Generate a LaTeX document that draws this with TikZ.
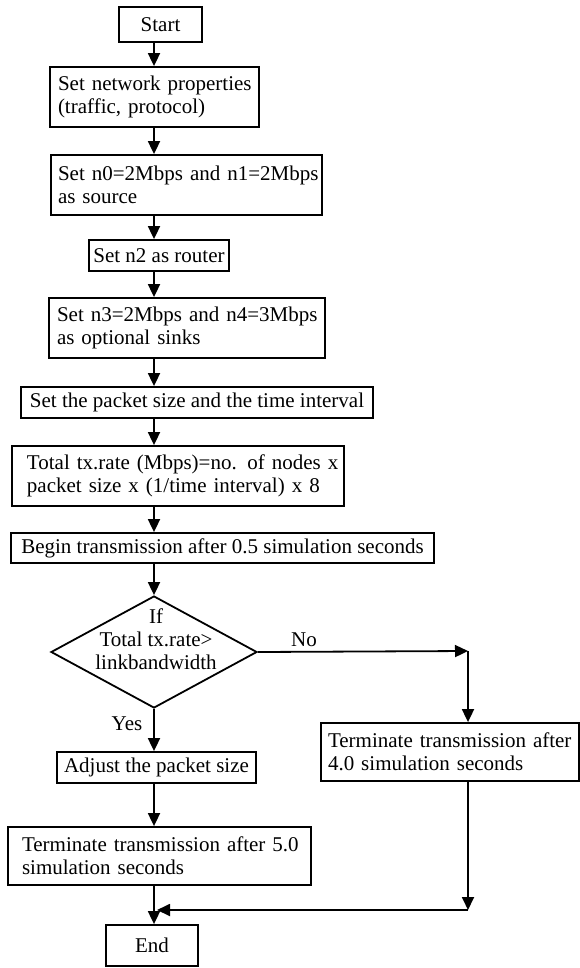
\documentclass[tikz,border=0pt]{standalone}
\usepackage{fontspec}
\setmainfont{Liberation Serif}
\usetikzlibrary{shapes.geometric,arrows.meta}
\begin{document}
\begin{tikzpicture}[x=1pt,y=-1pt,
  box/.style={draw, line width=1.8pt, inner ysep=0pt, font=\fontsize{21}{23}\selectfont},
  lbox/.style={box, align=left},
  cbox/.style={box, align=center, inner xsep=0pt},
  arr/.style={line width=1.8pt, -{Triangle[length=13pt,width=12pt]}},
  lab/.style={font=\fontsize{21}{23}\selectfont, inner sep=0pt}]
\useasboundingbox (0,0) rectangle (580,968);
\coordinate (ax) at (154,0);
\coordinate (cr) at (468,651);
\coordinate (cm) at (468,910);
\coordinate (mj) at (157,910);

\node[cbox, minimum width=83pt, minimum height=35pt] (start) at (160.5,24.5) {Start};
\node[lbox, inner xsep=8pt, text width=193pt, minimum height=60pt] (net) at (154.5,97) {\mbox{Set network properties}\\\mbox{(traffic, protocol)}};
\node[lbox, inner xsep=7pt, text width=257pt, minimum height=60pt] (src) at (186.5,185) {\mbox{Set n0=2Mbps and n1=2Mbps}\\\mbox{as source}};
\node[cbox, minimum width=140pt, minimum height=31pt] (router) at (159,255.5) {Set n2 as router};
\node[lbox, inner xsep=8pt, text width=260pt, minimum height=60pt] (sinks) at (187,328) {\mbox{Set n3=2Mbps and n4=3Mbps}\\\mbox{as optional sinks}};
\node[cbox, minimum width=352pt, minimum height=31pt] (pkt) at (197,402.5) {Set the packet size and the time interval};
\node[lbox, inner xsep=15pt, text width=302pt, minimum height=60pt] (rate) at (178,476) {\mbox{Total tx.rate (Mbps)=no. of nodes x}\\\mbox{packet size x (1/time interval) x 8}};
\node[cbox, minimum width=423pt, minimum height=30pt] (begin) at (222.5,548) {Begin transmission after 0.5 simulation seconds};
\node[diamond, draw, line width=1.8pt, inner sep=0pt, minimum width=206pt, minimum height=112pt] (dec) at (154,652) {};
\node[lab, align=center] (dectxt) at (156,639.5) {If\\Total tx.rate>\\linkbandwidth};
\node[cbox, minimum width=199pt, minimum height=31pt] (adjust) at (156.5,767.5) {Adjust the packet size};
\node[lbox, inner xsep=14pt, text width=275pt, minimum height=58pt] (term5) at (159.5,856) {\mbox{Terminate transmission after 5.0}\\\mbox{simulation seconds}};
\node[lbox, inner xsep=7pt, text width=244pt, minimum height=58pt] (term4) at (450,752) {\mbox{Terminate transmission after}\\\mbox{4.0 simulation seconds}};
\node[cbox, minimum width=92pt, minimum height=41pt] (end) at (152,945.5) {End};
\node[lab] (yes) at (127,724) {Yes};
\node[lab] (no) at (304,640) {No};

\draw[arr] (start.south -| ax) -- (net.north -| ax);
\draw[arr] (net.south -| ax) -- (src.north -| ax);
\draw[arr] (src.south -| ax) -- (router.north -| ax);
\draw[arr] (router.south -| ax) -- (sinks.north -| ax);
\draw[arr] (sinks.south -| ax) -- (pkt.north -| ax);
\draw[arr] (pkt.south -| ax) -- (rate.north -| ax);
\draw[arr] (rate.south -| ax) -- (begin.north -| ax);
\draw[arr] (begin.south -| ax) -- (dec.north);
\draw[arr] (dec.south) -- (adjust.north -| ax);
\draw[arr] (adjust.south -| ax) -- (term5.north -| ax);
\draw[arr] (term5.south -| ax) -- (end.north -| ax);
\draw[arr] (dec.east) -- (cr);
\draw[arr] (cr) -- (term4.north -| cr);
\draw[arr] (term4.south -| cr) -- (cm);
\draw[arr] (cm) -- (mj);
\end{tikzpicture}
\end{document}
